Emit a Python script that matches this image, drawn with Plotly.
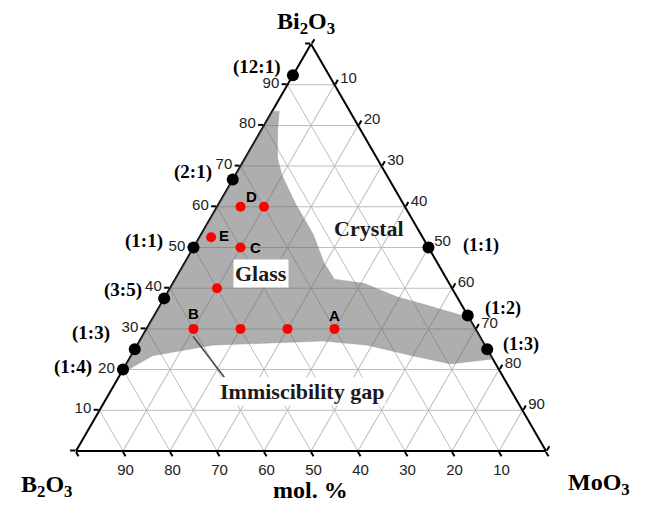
import plotly.graph_objects as go

# ---------------- data (mol %) ----------------
# ratio points on the B2O3-Bi2O3 edge (MoO3 = 0)
left_ratio_labels = ["(12:1)", "(2:1)", "(1:1)", "(3:5)", "(1:3)", "(1:4)"]
left_ratio_bi = [92.3, 66.7, 50.0, 37.5, 25.0, 20.0]
left_ratio_mo = [0.0, 0.0, 0.0, 0.0, 0.0, 0.0]

# ratio points on the Bi2O3-MoO3 edge (B2O3 = 0)
right_ratio_labels = ["(1:1)", "(1:2)", "(1:3)"]
right_ratio_bi = [50.0, 33.3, 25.0]
right_ratio_mo = [50.0, 66.7, 75.0]

# studied glass compositions
sample_labels = ["A", "B", "", "", "", "C", "D", "", "E"]
sample_bi = [30, 30, 30, 30, 40, 50, 60, 60, 52.5]
sample_b2o3 = [30, 60, 50, 40, 50, 40, 35, 30, 45]
sample_mo = [40, 10, 20, 30, 10, 10, 5, 10, 2.5]

# glass-forming region outline (Bi2O3, MoO3); B2O3 is the remainder
glass_bi = [83.5, 83.5, 78.6, 71.8, 67.7, 60.8, 53.2, 46.3, 42.2, 41.2, 37.9,
            35.9, 33.3, 32.1, 22.6, 21.4, 23.4, 26.0, 27.0, 26.0, 23.4, 20.6,
            19.0, 83.5]
glass_mo = [0.0, 1.5, 3.6, 7.0, 10.0, 16.3, 23.9, 29.6, 33.9, 40.7, 49.3,
            56.6, 65.5, 67.9, 77.4, 69.0, 59.8, 49.0, 39.1, 16.0, 4.6, 1.7,
            0.0, 0.0]

# pointer to the immiscibility gap
gap_pointer_bi = [28.2, 18.1]
gap_pointer_mo = [10.8, 22.5]

# region labels (Bi2O3, MoO3)
region_labels = ["Crystal", "Glass", "Immiscibility gap"]
region_bi = [54.7, 43.5, 14.5]
region_mo = [34.9, 17.7, 40.8]

tick_vals = [0, 10, 20, 30, 40, 50, 60, 70, 80, 90, 100]
tick_text = ["", "10", "20", "30", "40", "50", "60", "70", "80", "90", ""]

# ---------------- layout geometry ----------------
# the page body adds an 8 px offset, so the figure is 8 px smaller each way
OFF = 8
W, H = 648 - OFF, 509 - OFF
ML, MT, PW = 68, 36, 470
PH = 407
MR = W - ML - PW
MB = H - MT - PH


def to_paper(bi, mo):
    return (mo + bi / 2.0) / 100.0, bi / 100.0


def page_to_paper(px, py):
    return (px - OFF - ML) / PW, (MT + PH - (py - OFF)) / PH


SERIF = "Liberation Serif, Times New Roman, serif"
SANS = "Liberation Sans, Arial, sans-serif"

fig = go.Figure()

fig.add_trace(go.Scatterternary(
    a=glass_bi, c=glass_mo, mode="lines", fill="toself",
    fillcolor="rgba(100,100,100,0.52)", line=dict(width=0.5, color="rgba(140,140,140,0.6)"),
    hoverinfo="skip", showlegend=False))

fig.add_trace(go.Scatterternary(
    a=gap_pointer_bi, c=gap_pointer_mo, mode="lines",
    line=dict(color="#4a4a4a", width=1.6), hoverinfo="skip", showlegend=False))

fig.add_trace(go.Scatterternary(
    a=left_ratio_bi + right_ratio_bi, c=left_ratio_mo + right_ratio_mo,
    mode="markers", marker=dict(color="black", size=12),
    cliponaxis=False, showlegend=False))

fig.add_trace(go.Scatterternary(
    a=sample_bi, b=sample_b2o3, c=sample_mo, mode="markers",
    marker=dict(color="#ff0000", size=10), text=sample_labels,
    showlegend=False))

axis_common = dict(
    tickmode="array", tickvals=tick_vals, ticktext=tick_text,
    ticks="outside", ticklen=5, tickwidth=1.5, tickcolor="black",
    showline=True, linecolor="black", linewidth=2,
    showgrid=True, gridcolor="#bdbdbd", gridwidth=1.3,
    tickfont=dict(family=SANS, size=15, color="#222"),
    title=dict(text=""), min=0, layer="below traces",
)

fig.update_layout(
    width=W, height=H,
    margin=dict(l=ML, r=MR, t=MT, b=MB, pad=0),
    paper_bgcolor="white",
    ternary=dict(
        sum=100,
        domain=dict(x=[0, 1], y=[0, 1]),
        bgcolor="white",
        aaxis=axis_common,
        baxis=axis_common,
        caxis=axis_common,
    ),
)

ann = []


def add_text(x, y, text, font, dx=0, dy=0, **kw):
    ann.append(dict(x=x, y=y, xref="paper", yref="paper", text=text, showarrow=False,
                    xanchor="center", yanchor="middle", xshift=dx, yshift=dy,
                    font=font, **kw))


# ratio labels on left edge
left_off = [(-36, 8), (-40, 8), (-50, 7), (-41, 8), (-44, 16), (-50, 3)]
for lab, bi, mo, (dx, dy) in zip(left_ratio_labels, left_ratio_bi, left_ratio_mo, left_off):
    x, y = to_paper(bi, mo)
    add_text(x, y, "<b>%s</b>" % lab, dict(family=SERIF, size=19, color="black"), dx, dy)

right_off = [(52, 2), (35, 7), (34, 5)]
for lab, bi, mo, (dx, dy) in zip(right_ratio_labels, right_ratio_bi, right_ratio_mo, right_off):
    x, y = to_paper(bi, mo)
    add_text(x, y, "<b>%s</b>" % lab, dict(family=SERIF, size=18, color="black"), dx, dy)

# sample letters
letter_off = {"A": (0, 13), "B": (0, 15), "C": (15, 0), "D": (11, 10), "E": (13, 2)}
for lab, bi, mo in zip(sample_labels, sample_bi, sample_mo):
    if not lab:
        continue
    dx, dy = letter_off[lab]
    x, y = to_paper(bi, mo)
    add_text(x, y, "<b>%s</b>" % lab, dict(family=SANS, size=15, color="black"), dx, dy)

# region labels
for lab, bi, mo in zip(region_labels, region_bi, region_mo):
    x, y = to_paper(bi, mo)
    bg = "white" if lab != "Crystal" else "rgba(0,0,0,0)"
    add_text(x, y, "<b>%s</b>" % lab, dict(family=SERIF, size=22, color="#1a1a1a"),
             bgcolor=bg, borderpad=1)

# component titles and unit (page pixel positions)
titles = [("<b>Bi<sub>2</sub>O<sub>3</sub></b>", 306, 23),
          ("<b>B<sub>2</sub>O<sub>3</sub></b>", 46, 486),
          ("<b>MoO<sub>3</sub></b>", 599, 484),
          ("<b>mol. %</b>", 310, 490)]
for txt, px, py in titles:
    x, y = page_to_paper(px, py)
    add_text(x, y, txt, dict(family=SERIF, size=24, color="black"))

fig.update_layout(annotations=ann)

fig.write_html("out.html")
